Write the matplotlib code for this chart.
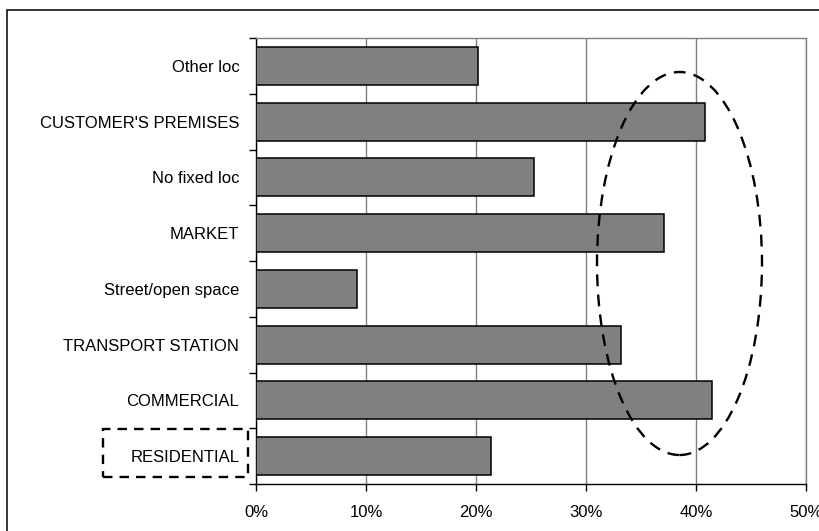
#!/usr/bin/env python3
"""Horizontal bar chart of shares by location, with dashed highlights."""

import matplotlib.pyplot as plt
import numpy as np
from matplotlib.patches import Ellipse, Rectangle

# Data (top to bottom as shown in the chart)
categories = [
    "Other loc",
    "CUSTOMER'S PREMISES",
    "No fixed loc",
    "MARKET",
    "Street/open space",
    "TRANSPORT STATION",
    "COMMERCIAL",
    "RESIDENTIAL",
]
shares = [20.2, 40.8, 25.3, 37.1, 9.2, 33.2, 41.5, 21.4]
x_ticks = [0, 10, 20, 30, 40, 50]
x_tick_labels = ["0%", "10%", "20%", "30%", "40%", "50%"]

W, H = 820, 531

plt.rcParams["font.family"] = ["Liberation Sans", "DejaVu Sans"]

fig = plt.figure(figsize=(W / 100, H / 100), dpi=100)
ax = fig.add_axes([256 / W, 1 - 484 / H, 550 / W, 446 / H])

y = np.arange(len(categories))
ax.barh(y, shares, height=0.68, color="#808080", edgecolor="black",
        linewidth=1.1, zorder=3)

ax.set_xlim(0, 50)
ax.set_ylim(len(categories) - 0.5, -0.5)

ax.set_xticks(x_ticks)
ax.set_xticklabels(x_tick_labels, fontsize=12)
ax.tick_params(axis="x", direction="out", length=5, width=1, pad=10)

ax.set_yticks(y)
ax.set_yticklabels(categories, fontsize=12)
ax.tick_params(axis="y", which="major", length=0, pad=12)
ax.set_yticks(np.arange(-0.5, len(categories), 1), minor=True)
ax.tick_params(axis="y", which="minor", direction="out", length=5, width=1)

ax.grid(axis="x", color="#808080", linewidth=1, zorder=0)
ax.set_axisbelow(True)

ax.spines["left"].set_color("black")
ax.spines["bottom"].set_color("black")
ax.spines["top"].set_color("#808080")
ax.spines["right"].set_color("#808080")
for s in ax.spines.values():
    s.set_linewidth(1)

# Dashed ellipse highlighting the large bars
ell = Ellipse(((597 + 762) / 2 / W, 1 - 263.5 / H), 165 / W, 383 / H,
              transform=fig.transFigure, fill=False, edgecolor="black",
              linewidth=1.7, linestyle=(0, (5, 3.5)), zorder=10)
fig.add_artist(ell)

# Dashed box around RESIDENTIAL label
box = Rectangle((103 / W, 1 - 477 / H), 145 / W, 48 / H,
                transform=fig.transFigure, fill=False, edgecolor="black",
                linewidth=1.7, linestyle=(0, (4, 3)), zorder=10)
fig.add_artist(box)

# Outer chart border
frame = Rectangle((7 / W, -0.05), 1.1, 1 - 10 / H + 0.05,
                  transform=fig.transFigure, fill=False, edgecolor="black",
                  linewidth=1.1)
fig.add_artist(frame)

fig.savefig("out.png", dpi=100)
